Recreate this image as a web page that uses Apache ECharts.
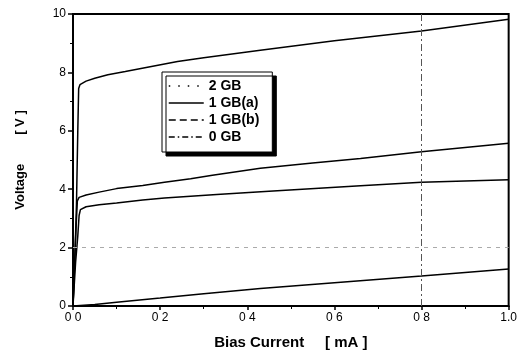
<!DOCTYPE html>
<html><head><meta charset="utf-8">
<script src="https://cdn.jsdelivr.net/npm/echarts@6/dist/echarts.min.js"></script>
<style>html,body{margin:0;padding:0;background:#fff}#c{width:520px;height:355px}</style>
</head><body><div id="c"></div>
<script>
// ---- data ----
const seriesNames = ['2 GB', '1 GB(a)', '1 GB(b)', '0 GB'];
const x2GB  = [0, 0.004, 0.008, 0.011, 0.013, 0.016, 0.03, 0.05, 0.08, 0.12, 0.18, 0.24, 0.3, 0.43, 0.6, 0.8, 1.0];
const y2GB  = [0, 1.5, 3.5, 6.0, 7.45, 7.58, 7.7, 7.8, 7.92, 8.03, 8.2, 8.37, 8.5, 8.76, 9.08, 9.42, 9.82];
const x1GBa = [0, 0.005, 0.008, 0.010, 0.012, 0.014, 0.03, 0.06, 0.1, 0.16, 0.21, 0.27, 0.32, 0.43, 0.55, 0.66, 0.8, 1.0];
const y1GBa = [0, 2.0, 3.0, 3.6, 3.66, 3.72, 3.8, 3.9, 4.02, 4.13, 4.24, 4.36, 4.48, 4.72, 4.9, 5.05, 5.28, 5.57];
const x1GBb = [0, 0.006, 0.011, 0.014, 0.017, 0.03, 0.06, 0.1, 0.16, 0.21, 0.33, 0.45, 0.66, 0.8, 1.0];
const y1GBb = [0, 1.5, 2.4, 3.1, 3.3, 3.4, 3.47, 3.53, 3.63, 3.7, 3.82, 3.93, 4.12, 4.24, 4.32];
const x0GB  = [0, 0.05, 0.1, 0.2, 0.3, 0.43, 0.6, 0.8, 1.0];
const y0GB  = [0, 0.05, 0.13, 0.27, 0.42, 0.6, 0.8, 1.03, 1.27];
const xTickLabels = ['0 0', '0 2', '0 4', '0 6', '0 8', '1.0'];
const yTickLabels = ['0', '2', '4', '6', '8', '10'];
const legendLineTypes = ['dotted', 'solid', 'dashed', 'dashdot'];

const pairs = (xs, ys) => xs.map((x, i) => [x, ys[i]]);
const allData = [pairs(x2GB, y2GB), pairs(x1GBa, y1GBa), pairs(x1GBb, y1GBb), pairs(x0GB, y0GB)];
const dashMap = {dotted: [1.5, 8], solid: 'solid', dashed: [7, 4], dashdot: [6, 3, 1.5, 3]};

const font = 'Liberation Sans, Arial, sans-serif';
const chart = echarts.init(document.getElementById('c'));
const series = seriesNames.map((n, i) => ({
  name: n, type: 'line', data: allData[i], symbol: 'none', showSymbol: false,
  lineStyle: {color: '#000', width: 1.5}, itemStyle: {color: '#000'},
  animation: false,
  z: 3
}));
series[0].markLine = {
  silent: true, symbol: 'none', label: {show: false}, animation: false,
  data: [
    {xAxis: 0.8, lineStyle: {color: '#555', width: 1, type: [7, 3, 2, 3]}},
    {yAxis: 2, lineStyle: {color: '#aaa', width: 1, type: [4, 5]}}
  ]
};
chart.setOption({
  animation: false,
  backgroundColor: '#fff',
  grid: {left: 73, right: 11, top: 14, bottom: 48, show: true, borderColor: '#000', borderWidth: 2},
  legend: {
    orient: 'vertical', left: 162, top: 72,
    padding: [7, 13, 8, 6],
    itemWidth: 35, itemHeight: 12, itemGap: 3,
    backgroundColor: '#fff', borderColor: '#000', borderWidth: 1,
    shadowColor: '#000', shadowOffsetX: 4, shadowOffsetY: 4, shadowBlur: 0,
    textStyle: {fontFamily: font, fontSize: 14, fontWeight: 'bold', color: '#000', lineHeight: 14},
    itemStyle: {opacity: 0},
    data: seriesNames.map((n, i) => ({
      name: n,
      itemStyle: {opacity: 0},
      lineStyle: {type: dashMap[legendLineTypes[i]], width: 1.5, color: '#000', opacity: 1}
    }))
  },
  xAxis: {
    type: 'value', min: 0, max: 1, interval: 0.2,
    name: 'Bias Current     [ mA ]', nameLocation: 'middle', nameGap: 29,
    nameTextStyle: {fontFamily: font, fontSize: 15, fontWeight: 'bold', color: '#000'},
    axisLine: {show: true, lineStyle: {color: '#000', width: 2}},
    axisTick: {show: true, length: 4, lineStyle: {color: '#000', width: 1.5}},
    minorTick: {show: true, splitNumber: 2, length: 3, lineStyle: {color: '#000'}},
    splitLine: {show: false},
    axisLabel: {fontFamily: font, fontSize: 12, color: '#000', margin: 6,
      formatter: v => xTickLabels[Math.round(v / 0.2)]}
  },
  yAxis: {
    type: 'value', min: 0, max: 10, interval: 2,
    name: 'Voltage        [ V ]', nameLocation: 'middle', nameGap: 46,
    nameTextStyle: {fontFamily: font, fontSize: 13, fontWeight: 'bold', color: '#000'},
    axisLine: {show: true, lineStyle: {color: '#000', width: 2}},
    axisTick: {show: true, length: 5, lineStyle: {color: '#000', width: 1.5}},
    minorTick: {show: true, splitNumber: 2, length: 3, lineStyle: {color: '#000'}},
    splitLine: {show: false},
    axisLabel: {fontFamily: font, fontSize: 12, color: '#000', margin: 7,
      formatter: v => yTickLabels[Math.round(v / 2)]}
  },
  series: series
});
</script></body></html>
